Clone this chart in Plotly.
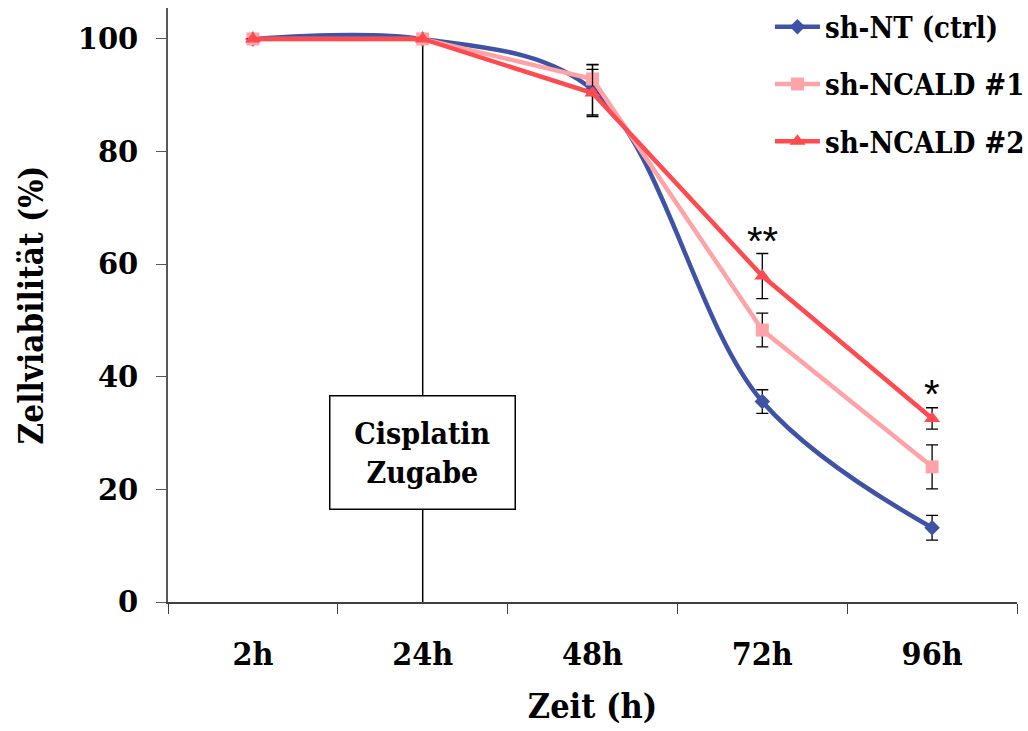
import plotly.graph_objects as go

categories = ["2h", "24h", "48h", "72h", "96h"]

nt_vals = [100, 100, 91.0, 35.6, 13.2]
nt_err = [0, 0, 4.5, 2.1, 2.2]

ncald1_vals = [100, 100, 92.9, 48.3, 24.0]
ncald1_err = [0, 0, 2.5, 3.0, 3.9]

ncald2_vals = [100, 100, 90.4, 57.9, 32.6]
ncald2_err = [0, 0, 4.2, 4.0, 1.9]

y_ticks = [0, 20, 40, 60, 80, 100]

BLUE = "#3F53A6"
PINK = "#FFA3A6"
RED = "#FF4A50"
SERIF = "DejaVu Serif Condensed"

fig = go.Figure()


def err(arr):
    return dict(type="data", array=arr, visible=True, color="black", thickness=1.3, width=6)


fig.add_trace(go.Scatter(
    x=categories, y=nt_vals, name="sh-NT (ctrl)", mode="lines+markers",
    line=dict(color=BLUE, width=4.5, shape="spline", smoothing=1.0),
    marker=dict(symbol="diamond", size=12, color=BLUE),
    error_y=err(nt_err), legendgroup="a",
))
fig.add_trace(go.Scatter(
    x=categories, y=ncald1_vals, name="sh-NCALD #1", mode="lines+markers",
    line=dict(color=PINK, width=4.5),
    marker=dict(symbol="square", size=13, color=PINK),
    error_y=err(ncald1_err), legendgroup="b",
))
fig.add_trace(go.Scatter(
    x=categories, y=ncald2_vals, name="sh-NCALD #2", mode="lines+markers",
    line=dict(color=RED, width=4.5),
    marker=dict(symbol="triangle-up", size=14, color=RED),
    error_y=err(ncald2_err), legendgroup="c",
))

# Cisplatin addition marker line at 24h
fig.add_shape(type="line", xref="x", yref="y", x0=1, x1=1, y0=0, y1=100,
              line=dict(color="black", width=1.5), layer="below")

fig.add_annotation(x=1, y=26.5, xref="x", yref="y", text="Cisplatin<br>Zugabe",
                   showarrow=False, font=dict(family=SERIF, size=30, color="black", weight="bold"),
                   bgcolor="white", bordercolor="black", borderwidth=1.5, borderpad=0,
                   width=184, height=112, align="center")

# significance marks
fig.add_annotation(x=3, y=64.1, xref="x", yref="y", yanchor="middle", text="**",
                   showarrow=False, font=dict(family="Liberation Sans", size=40, color="black"))
fig.add_annotation(x=4, y=36.9, xref="x", yref="y", yanchor="middle", text="*",
                   showarrow=False, font=dict(family="Liberation Sans", size=40, color="black"))

fig.update_layout(
    width=1028, height=731,
    margin=dict(l=168, r=11, t=8, b=129, autoexpand=False),
    paper_bgcolor="white", plot_bgcolor="white",
    showlegend=True,
    legend=dict(x=0.709, y=1.011, xanchor="left", yanchor="top",
                font=dict(family=SERIF, size=29, color="black", weight="bold"),
                tracegroupgap=16.5, itemwidth=45, bgcolor="rgba(0,0,0,0)"),
    xaxis=dict(
        type="category", range=[-0.5, 4.5], tickson="boundaries",
        ticks="outside", ticklen=10, tickcolor="#404040", tickwidth=1.3,
        showline=True, linecolor="#404040", linewidth=1.5,
        showgrid=False, zeroline=False,
        tickfont=dict(family=SERIF, size=32, color="black", weight="bold"),
        ticklabelstandoff=23,
        title=dict(text="Zeit (h)", font=dict(family=SERIF, size=34, color="black", weight="bold"), standoff=22),
    ),
    yaxis=dict(
        range=[0, 105.5], tickvals=y_ticks,
        ticks="outside", ticklen=10, tickcolor="#595959", tickwidth=1.3,
        showline=True, linecolor="#595959", linewidth=1.8,
        showgrid=False, zeroline=False,
        tickfont=dict(family="DejaVu Serif", size=29, color="black", weight="bold"),
        ticklabelstandoff=12,
        title=dict(text="Zellviabilität (%)", font=dict(family=SERIF, size=33, color="black", weight="bold"), standoff=24),
    ),
)

fig.write_html("out.html")
